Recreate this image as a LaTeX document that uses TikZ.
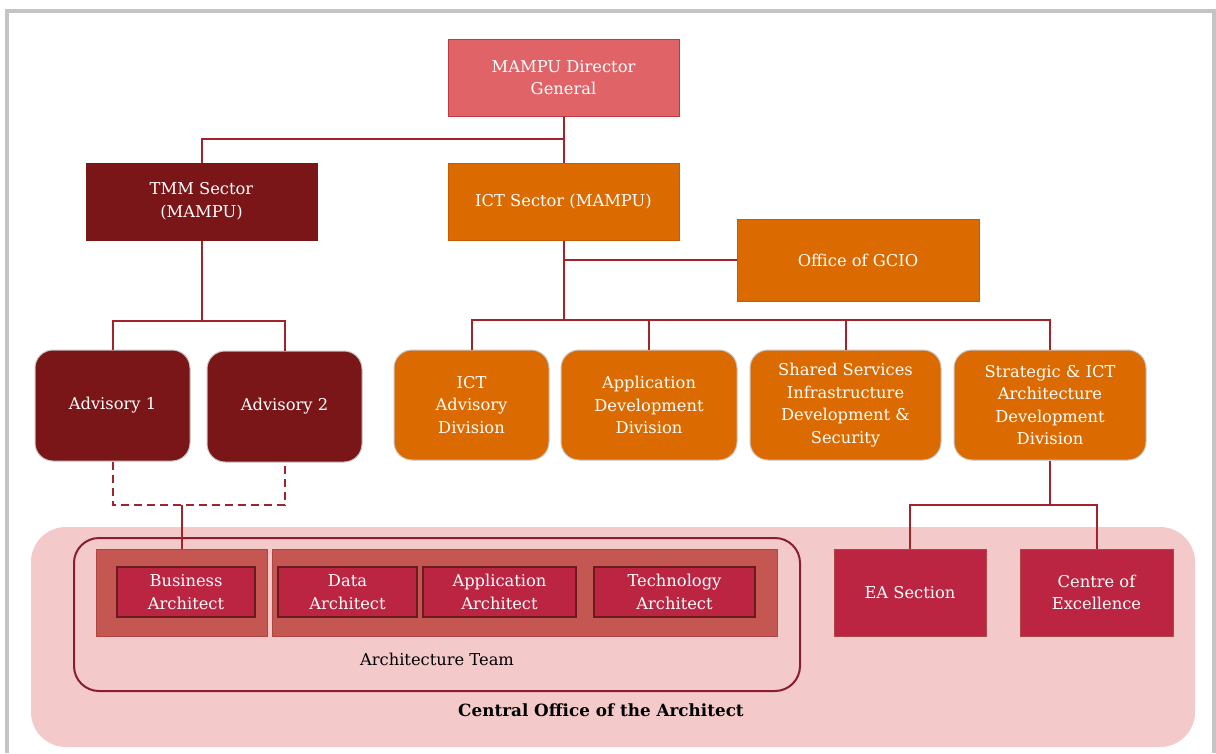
\documentclass[tikz,border=0pt]{standalone}
\usepackage{fontspec}
\setmainfont{DejaVu Serif}
\definecolor{lnred}{HTML}{A3232A}
\definecolor{dgfill}{HTML}{E06367}
\definecolor{dgdraw}{HTML}{C0393F}
\definecolor{tmmfill}{HTML}{7B1618}
\definecolor{orfill}{HTML}{DB6A00}
\definecolor{ordraw}{HTML}{C85A00}
\definecolor{pinkbg}{HTML}{F4C9CA}
\definecolor{teamdraw}{HTML}{8B1C2E}
\definecolor{innerfill}{HTML}{C45752}
\definecolor{innerdraw}{HTML}{B04545}
\definecolor{archfill}{HTML}{BB2541}
\definecolor{archdraw}{HTML}{6B1A1E}
\definecolor{framegray}{HTML}{C4C4C4}
\begin{document}
\begin{tikzpicture}[x=1pt,y=-1pt,
  every node/.style={font=\fontsize{16.3}{22.6}\selectfont},
  box/.style={rectangle, align=center, text=white, inner sep=2pt, line width=1pt},
  rbox/.style={box, rounded corners=18pt, draw=gray!45, line width=1pt},
  archbox/.style={box, fill=archfill, draw=archdraw, line width=2pt},
  conn/.style={draw=lnred, line width=2pt},
  dconn/.style={conn, dash pattern=on 8pt off 5pt}
]
\useasboundingbox (0,0) rectangle (1216,753);
\fill[white] (0,0) rectangle (1216,753);
% frame
\draw[framegray, line width=4pt] (6.5,753) -- (6.5,10.5) -- (1213.5,10.5) -- (1213.5,753);

% background of central office
\fill[pinkbg, rounded corners=35pt] (31,527) rectangle (1195,747);
\draw[teamdraw, line width=2pt, rounded corners=25pt] (74,538) rectangle (800,691);
\node[box, fill=innerfill, draw=innerdraw, minimum width=171, minimum height=87] (in1) at (181.5,592.5) {};
\node[box, fill=innerfill, draw=innerdraw, minimum width=505, minimum height=87] (in2) at (524.5,592.5) {};

% top
\node[box, fill=dgfill, draw=dgdraw, minimum width=231, minimum height=77] (dg) at (563.5,77.5) {MAMPU Director\\General};
\node[box, fill=tmmfill, draw=tmmfill, minimum width=231, minimum height=77] (tmm) at (201.5,201.5) {TMM Sector\\(MAMPU)};
\node[box, fill=orfill, draw=ordraw, minimum width=231, minimum height=77] (ict) at (563.5,201.5) {ICT Sector (MAMPU)};
\node[box, fill=orfill, draw=ordraw, minimum width=242, minimum height=82] (gcio) at (858,260) {Office of GCIO};

% advisory
\node[rbox, fill=tmmfill, minimum width=155, minimum height=111] (adv1) at (112.5,405.5) {Advisory 1};
\node[rbox, fill=tmmfill, minimum width=155, minimum height=111] (adv2) at (284.5,406.5) {Advisory 2};

% divisions
\node[rbox, fill=orfill, minimum width=155, minimum height=110] (ictadv) at (471.5,405) {ICT\\Advisory\\Division};
\node[rbox, fill=orfill, minimum width=176, minimum height=110] (appdev) at (649,405) {Application\\Development\\Division};
\node[rbox, fill=orfill, minimum width=191, minimum height=110] (shared) at (845.5,405) {Shared Services\\Infrastructure\\Development \&\\Security};
\node[rbox, fill=orfill, minimum width=192, minimum height=110] (strat) at (1050,405) {Strategic \& ICT\\Architecture\\Development\\Division};

% architects
\node[archbox, minimum width=138, minimum height=50] (ba) at (186,592) {Business\\Architect};
\node[archbox, minimum width=139, minimum height=50] (da) at (347.5,592) {Data\\Architect};
\node[archbox, minimum width=153, minimum height=50] (aa) at (499.5,592) {Application\\Architect};
\node[archbox, minimum width=161, minimum height=50] (ta) at (674.5,592) {Technology\\Architect};

\node (teamlbl) at (437,659) {Architecture Team};
\node[font=\fontsize{16.8}{22}\selectfont\bfseries] (colbl) at (601,710) {Central Office of the Architect};

% sections
\node[box, fill=archfill, draw=innerdraw, minimum width=152, minimum height=87] (ea) at (910,592.5) {EA Section};
\node[box, fill=archfill, draw=innerdraw, minimum width=153, minimum height=87] (coe) at (1096.5,592.5) {Centre of\\Excellence};

% connectors
\coordinate (j1) at (563.5,139);
\coordinate (j2) at (563.5,320);
\coordinate (j3) at (201.5,321);
\coordinate (dj) at (181.5,505);
\coordinate (j4) at (1050,505);

\draw[conn] (dg.south) -- (ict.north);
\draw[conn] (j1) -| (tmm.north);
\draw[conn] (ict.south) -- (j2);
\draw[conn] (ict.south |- gcio.west) -- (gcio.west);
\draw[conn] (ictadv.north) |- (j2) -| (strat.north);
\draw[conn] (j2 -| appdev.north) -- (appdev.north);
\draw[conn] (j2 -| shared.north) -- (shared.north);

\draw[conn] (tmm.south) -- (j3);
\draw[conn] (adv1.north) |- (j3) -| (adv2.north);

\draw[dconn] (adv1.south) |- (dj) -| (adv2.south);
\draw[conn] (dj) -- (in1.north);

\draw[conn] (strat.south) -- (j4);
\draw[conn] (ea.north) |- (j4) -| (coe.north);
\end{tikzpicture}
\end{document}
